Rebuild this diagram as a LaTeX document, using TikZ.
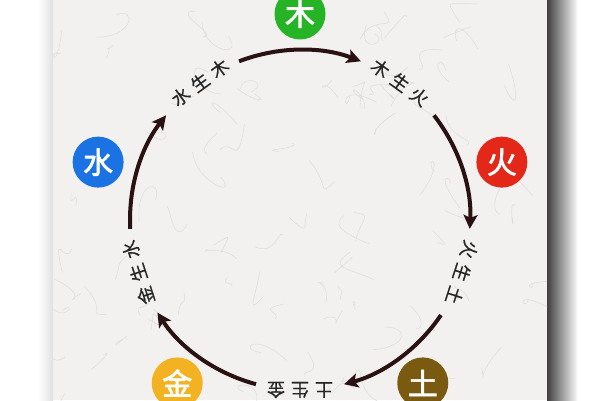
\documentclass[tikz,border=0pt]{standalone}
\usepackage{fontspec}
\setmainfont{Noto Sans CJK SC}
\newfontfamily\cjkbold[FakeBold=2.2]{Noto Sans CJK SC}
\newfontfamily\cjkmed[FakeBold=0.6]{Noto Sans CJK SC}
\usetikzlibrary{arrows.meta,calc}
\definecolor{paper}{HTML}{F3F1F0}
\definecolor{fiber}{HTML}{DDDBDB}
\definecolor{arrowc}{HTML}{2B1212}
\definecolor{labelc}{HTML}{262626}
\definecolor{cmu}{HTML}{26B426}
\definecolor{chuo}{HTML}{E3281A}
\definecolor{ctu}{HTML}{7A5910}
\definecolor{cjin}{HTML}{F2B222}
\definecolor{cshui}{HTML}{1B72E2}
\tikzset{
  elem/.style={circle, minimum size=51pt, inner sep=0pt, text=white, font=\cjkbold\fontsize{30}{30}\selectfont},
  shenglabel/.style={text=labelc, font=\cjkmed\fontsize{18}{18}\selectfont, inner sep=0pt},
  cyclearrow/.style={draw=arrowc, line width=4pt, -{Stealth[length=14pt,width=14pt,inset=3pt]}},
  fibreline/.style={draw=fiber, line width=0.5pt}
}
\newcommand{\gapchar}{\hspace{6pt}}
\begin{document}
\begin{tikzpicture}[x=1pt,y=1pt]
\useasboundingbox (0,0) rectangle (600,400);
\clip (0,0) rectangle (600,400);
% page and paper
\fill[white] (0,0) rectangle (600,400);
\shade[left color=white, right color=black!12] (38,0) rectangle (53,400);
\fill[paper] (53,0) rectangle (547,400);
\shade[left color=black!75, right color=white] (547,0) rectangle (578,400);
% paper fibres
\begin{scope}
\clip (53,0) rectangle (547,400);
\pgfmathsetseed{11}
\foreach \i in {1,...,90}{
  \pgfmathsetmacro\ax{60+rnd*480}
  \pgfmathsetmacro\ay{5+rnd*390}
  \pgfmathsetmacro\bx{\ax+rand*25}
  \pgfmathsetmacro\by{\ay+rand*25}
  \pgfmathsetmacro\cx{\ax+rand*25}
  \pgfmathsetmacro\cy{\ay+rand*25}
  \pgfmathsetmacro\dx{\ax+rand*30}
  \pgfmathsetmacro\dy{\ay+rand*30}
  \draw[fibreline] (\ax,\ay) .. controls (\bx,\by) and (\cx,\cy) .. (\dx,\dy);
}
\end{scope}
\coordinate (C) at (300,180);
% element discs
\node[elem, fill=cmu]   (mu)   at ($(C)+(90:206)$)   {木};
\node[elem, fill=chuo]  (huo)  at ($(C)+(16:210)$)   {火};
\node[elem, fill=ctu]   (tu)   at ($(C)+(-53:204)$)  {土};
\node[elem, fill=cjin]  (jin)  at ($(C)+(-127:204)$) {金};
\node[elem, fill=cshui] (shui) at ($(C)+(164:210)$)  {水};
% labels
\node[shenglabel, rotate=36]   (l1) at ($(C)+(126:170)$)  {水\gapchar 生\gapchar 木};
\node[shenglabel, rotate=-36]  (l2) at ($(C)+(54:170)$)   {木\gapchar 生\gapchar 火};
\node[shenglabel, rotate=-108] (l3) at ($(C)+(-18:170)$)  {火\gapchar 生\gapchar 土};
\node[shenglabel, rotate=180]  (l4) at ($(C)+(-90:170)$)  {土\gapchar 生\gapchar 金};
\node[shenglabel, rotate=108]  (l5) at ($(C)+(-162:170)$) {金\gapchar 生\gapchar 水};
% arcs
\coordinate (a1) at ($(C)+(111:170)$);
\coordinate (a2) at ($(C)+(38:170)$);
\coordinate (a3) at ($(C)+(-34:170)$);
\coordinate (a4) at ($(C)+(-105:170)$);
\coordinate (a5) at ($(C)+(-177:170)$);
\draw[cyclearrow] (a1) arc[start angle=111, end angle=69, radius=170];
\draw[cyclearrow] (a2) arc[start angle=38, end angle=-3, radius=170];
\draw[cyclearrow] (a3) arc[start angle=-34, end angle=-75, radius=170];
\draw[cyclearrow] (a4) arc[start angle=-105, end angle=-147, radius=170];
\draw[cyclearrow] (a5) arc[start angle=-177, end angle=-218, radius=170];
\end{tikzpicture}
\end{document}
